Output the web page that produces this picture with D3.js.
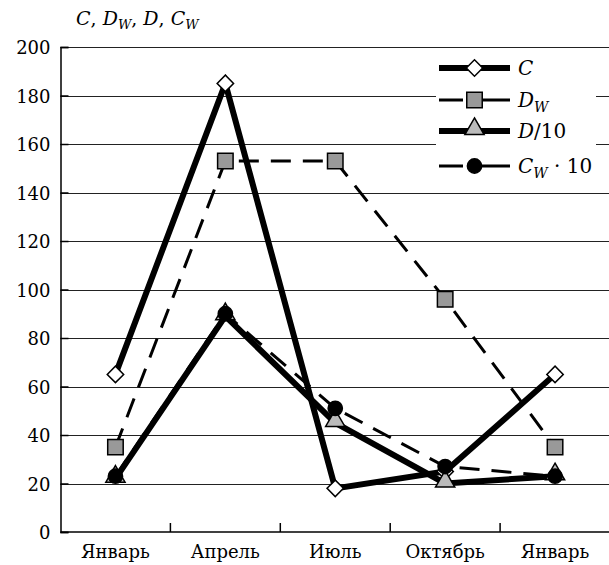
<!DOCTYPE html>
<html>
<head>
<meta charset="utf-8">
<script src="https://cdn.jsdelivr.net/npm/d3@7"></script>
<style>
  body { margin: 0; background: #fff; }
  text { font-family: "DejaVu Serif", "Liberation Serif", serif; }
</style>
</head>
<body>
<svg id="chart" width="609" height="565"></svg>
<script>
var months = ["Январь", "Апрель", "Июль", "Октябрь", "Январь "];
var seriesC = [65, 185, 18, 25, 65];
var seriesDW = [35, 153, 153, 96, 35];
var seriesD10 = [22, 89, 45, 20, 23];
var seriesCW10 = [23, 90, 51, 27, 23];
var yTicks = [0, 20, 40, 60, 80, 100, 120, 140, 160, 180, 200];

(function(){
var svg = d3.select("#chart");
var left = 60.5, right = 610, plotTop = 47, bottom = 532;

var x = d3.scaleBand().domain(months).range([left, right]);
var y = d3.scaleLinear().domain([0, 200]).range([bottom, plotTop]);

// grid
svg.append("g").selectAll("line")
  .data(yTicks.filter(function(d){ return d > 0; }))
  .enter().append("line")
  .attr("x1", left).attr("x2", right)
  .attr("y1", function(d){ return Math.round(y(d)) + 0.5; })
  .attr("y2", function(d){ return Math.round(y(d)) + 0.5; })
  .attr("stroke", "#222").attr("stroke-width", 1.2);

// y axis
var yAxis = svg.append("g")
  .attr("transform", "translate(" + left + ",0)")
  .call(d3.axisRight(y).tickValues(yTicks).tickSize(8).tickFormat(""));
yAxis.select(".domain").attr("stroke", "#000").attr("stroke-width", 1.5);
yAxis.selectAll(".tick line").attr("stroke", "#000").attr("stroke-width", 1.5);
svg.append("g").selectAll("text")
  .data(yTicks).enter().append("text")
  .attr("x", left - 10)
  .attr("y", function(d){ return y(d) + 7; })
  .attr("text-anchor", "end")
  .attr("font-size", 18)
  .text(function(d){ return d; });

// x axis
svg.append("line")
  .attr("x1", left).attr("x2", right)
  .attr("y1", bottom).attr("y2", bottom)
  .attr("stroke", "#000").attr("stroke-width", 1.5);
svg.append("g").selectAll("line")
  .data(months.slice(1)).enter().append("line")
  .attr("x1", function(d){ return x(d); })
  .attr("x2", function(d){ return x(d); })
  .attr("y1", bottom).attr("y2", bottom - 9)
  .attr("stroke", "#000").attr("stroke-width", 1.5);
svg.append("g").selectAll("text")
  .data(months).enter().append("text")
  .attr("x", function(d){ return x(d) + x.bandwidth() / 2; })
  .attr("y", bottom + 26)
  .attr("text-anchor", "middle")
  .attr("font-size", 18)
  .text(function(d){ return d.trim(); });

// axis title
var title = svg.append("text").attr("x", 76).attr("y", 25).attr("font-size", 19);
function sym(t, letter, sub, last){
  t.append("tspan").attr("font-style", "italic").text(letter);
  if (sub) t.append("tspan").attr("font-style", "italic").attr("font-size", 13).attr("dy", 4).text(sub);
  if (!last) t.append("tspan").attr("dy", sub ? -4 : 0).text(",  ");
}
sym(title, "C", null);
sym(title, "D", "W");
sym(title, "D", null);
sym(title, "C", "W", true);

var cx = function(d, i){ return x(months[i]) + x.bandwidth() / 2; };
var line = d3.line().x(cx).y(function(d){ return y(d); });

var series = [
  { name: "C", data: seriesC, width: 6, dash: null, marker: "diamond", fill: "#fff" },
  { name: "DW", data: seriesDW, width: 3, dash: "20,12", marker: "square", fill: "#999" },
  { name: "D10", data: seriesD10, width: 6, dash: null, marker: "triangle", fill: "#bbb" },
  { name: "CW10", data: seriesCW10, width: 3, dash: "20,12", marker: "circle", fill: "#000" }
];

var symbolOf = {
  diamond: d3.symbol().type(d3.symbolSquare).size(135),
  square: d3.symbol().type(d3.symbolSquare).size(240),
  triangle: d3.symbol().type(d3.symbolTriangle).size(160),
  circle: d3.symbol().type(d3.symbolCircle).size(160)
};

function drawMarker(g, s, px, py){
  var m = g.append("path")
    .attr("d", symbolOf[s.marker]())
    .attr("fill", s.fill)
    .attr("stroke", "#000")
    .attr("stroke-width", 1.5);
  var rot = s.marker === "diamond" ? " rotate(45)" : "";
  var dy = s.marker === "triangle" ? -2 : 0;
  m.attr("transform", "translate(" + px + "," + (py + dy) + ")" + rot);
}

series.forEach(function(s){
  svg.append("path")
    .datum(s.data)
    .attr("d", line)
    .attr("fill", "none")
    .attr("stroke", "#000")
    .attr("stroke-width", s.width)
    .attr("stroke-linejoin", "miter")
    .attr("stroke-dasharray", s.dash);
});
series.forEach(function(s){
  var g = svg.append("g");
  s.data.forEach(function(d, i){ drawMarker(g, s, cx(d, i), y(d)); });
});

// legend
var lg = svg.append("g");
lg.append("rect").attr("x", 436).attr("y", 52).attr("width", 160).attr("height", 130).attr("fill", "#fff");
var rows = [68, 100, 131, 166];
series.forEach(function(s, i){
  lg.append("line")
    .attr("x1", 439).attr("x2", 510)
    .attr("y1", rows[i]).attr("y2", rows[i])
    .attr("stroke", "#000").attr("stroke-width", s.width)
    .attr("stroke-dasharray", s.dash ? "24,10,37" : null);
  drawMarker(lg, s, 474.5, rows[i]);
});
var labels = lg.append("g").attr("font-size", 20);
var t0 = labels.append("text").attr("x", 518).attr("y", rows[0] + 7);
t0.append("tspan").attr("font-style", "italic").text("C");
var t1 = labels.append("text").attr("x", 518).attr("y", rows[1] + 7);
t1.append("tspan").attr("font-style", "italic").text("D");
t1.append("tspan").attr("font-style", "italic").attr("font-size", 14).attr("dy", 5).text("W");
var t2 = labels.append("text").attr("x", 518).attr("y", rows[2] + 7);
t2.append("tspan").attr("font-style", "italic").text("D");
t2.append("tspan").text("/10");
var t3 = labels.append("text").attr("x", 518).attr("y", rows[3] + 7);
t3.append("tspan").attr("font-style", "italic").text("C");
t3.append("tspan").attr("font-style", "italic").attr("font-size", 14).attr("dy", 5).text("W");
t3.append("tspan").attr("dy", -5).text(" · 10");
})();
</script>
</body>
</html>
